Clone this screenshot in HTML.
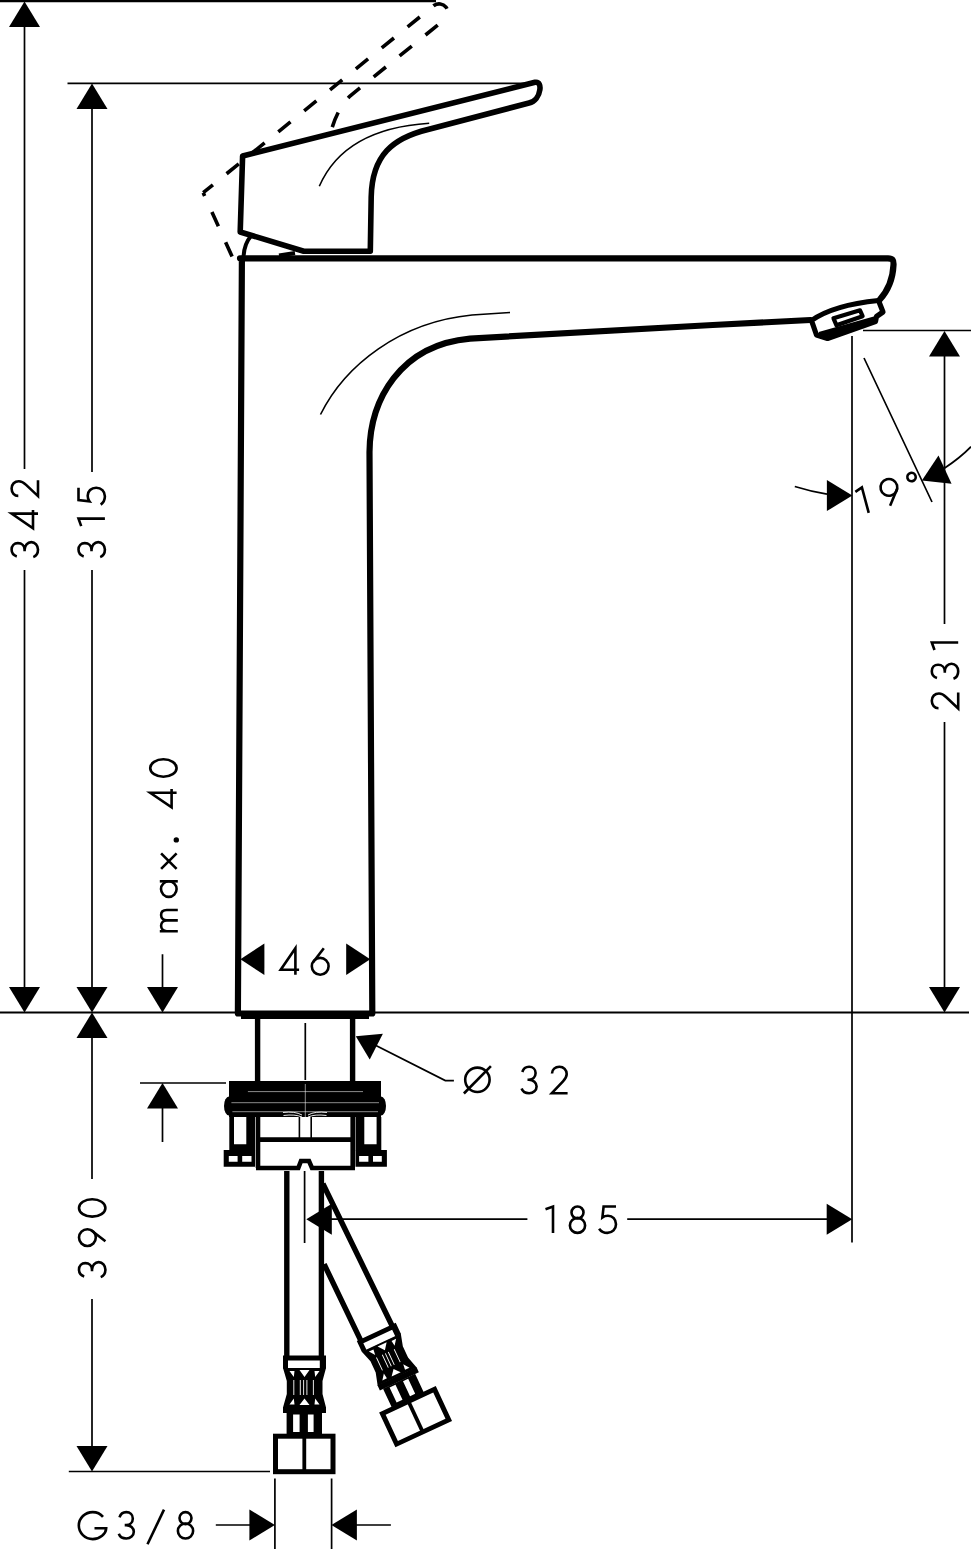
<!DOCTYPE html>
<html><head><meta charset="utf-8"><title>Faucet drawing</title>
<style>html,body{margin:0;padding:0;background:#fff;}body{width:971px;height:1549px;overflow:hidden;font-family:"Liberation Sans",sans-serif;}svg{display:block;}</style>
</head><body>
<svg width="971" height="1549" viewBox="0 0 971 1549"><path fill="none" stroke="#000" stroke-width="1.7" d="M67.5,83.3 H532 M24.5,26 V469 M24.5,570 V987 M92,108 V472 M92,570 V987 M162.5,954.3 V987 M92,1038 V1179 M92,1299 V1446 M68.8,1471.5 H270 M140,1083 H226 M162.5,1108 V1142 M863,330.5 H971 M944.5,355 V624 M944.5,722 V987 M852,336 V1242.6 M330,1219.2 H527.4 M627.2,1219.2 H828 M305.3,1023 V1080 M304.6,1171 V1243 M274.9,1478.4 V1549 M331.6,1478.4 V1549 M215.8,1525 H250 M356,1525 H390.9 M864,358 L932,502 M372,1043.5 L445.3,1080.6 H453.9"/>
<path fill="none" stroke="#000" stroke-width="2.2" d="M0,1.1 H436"/>
<path fill="none" stroke="#000" stroke-width="2" d="M0,1012.5 H236 M374,1012.5 H969"/>
<path fill="none" stroke="#000" stroke-width="1.7" d="M794.8,486.5 Q811,491.5 827,494.2 M971,446.7 Q960,458 944,468.5"/>
<g fill="#000"><path d="M24.50,1.50 L40.00,27.00 L9.00,27.00 Z"/><path d="M24.50,1012.50 L9.00,987.00 L40.00,987.00 Z"/><path d="M92.00,83.50 L107.50,109.00 L76.50,109.00 Z"/><path d="M92.00,1012.50 L76.50,987.00 L107.50,987.00 Z"/><path d="M162.50,1012.50 L147.00,987.00 L178.00,987.00 Z"/><path d="M92.00,1012.50 L107.50,1038.00 L76.50,1038.00 Z"/><path d="M92.00,1471.50 L76.50,1446.00 L107.50,1446.00 Z"/><path d="M162.50,1083.00 L178.00,1108.50 L147.00,1108.50 Z"/><path d="M944.50,331.00 L960.00,356.50 L929.00,356.50 Z"/><path d="M944.50,1012.50 L929.00,987.00 L960.00,987.00 Z"/><path d="M240.40,959.30 L264.40,943.50 L264.40,975.10 Z"/><path d="M370.20,959.30 L346.20,975.10 L346.20,943.50 Z"/><path d="M306.30,1219.20 L331.80,1203.70 L331.80,1234.70 Z"/><path d="M852.20,1219.20 L826.70,1234.70 L826.70,1203.70 Z"/><path d="M274.90,1525.00 L249.40,1540.50 L249.40,1509.50 Z"/><path d="M331.40,1525.00 L356.90,1509.50 L356.90,1540.50 Z"/><path d="M852.35,495.60 L826.85,511.10 L826.85,480.10 Z"/><path d="M921.90,480.40 L938.50,455.60 L951.56,483.72 Z"/><path d="M355.80,1036.20 L382.88,1033.72 L369.71,1059.56 Z"/></g>
<path fill="none" stroke="#000" stroke-width="6.2" stroke-linejoin="round" stroke-linecap="round" d="M241.9,258.3 L237.9,1013.5 H372.3 L369.5,452 C370,400 400,345 470,338.6 L712.8,325 L810.5,320 M240,258.3 H888 C892.5,258.5 893.8,260 893.5,265 C893,276 889.5,289 879.5,300"/>
<path fill="none" stroke="#000" stroke-width="5.6" stroke-linejoin="round" stroke-linecap="round" d="M242.6,156 L535,82.3 C539.5,81.5 540.5,86 539.8,90 C539,96 535,101.5 529,103 L428,129.5 C393,138 372,155 371.2,197 L370.3,251.3 H303.8 L240.2,232 Z"/>
<rect x="241" y="1013" width="128" height="6" fill="#000"/>
<path fill="none" stroke="#000" stroke-width="1.6" d="M320.5,414.5 C345,365 400,322 472,315 L510,312.5 M319.3,186.3 C335,150 370,127 429.2,123.2"/>
<path fill="none" stroke="#000" stroke-width="4" d="M251,236 Q244,244 243.5,257.5 M279,255.5 L295,253"/>
<path fill="none" stroke="#000" stroke-width="3.6" stroke-dasharray="15.7 17.6" stroke-dashoffset="-1" d="M232.5,257.5 L203.2,192.7"/>
<path fill="none" stroke="#000" stroke-width="3.6" stroke-dasharray="15.7 17.6" stroke-dashoffset="3.2" d="M203.2,192.7 L434,5.5 A8.8,8.8 0 0 1 445,19.2"/>
<path fill="none" stroke="#000" stroke-width="3.6" stroke-dasharray="15.7 17.6" stroke-dashoffset="-9.4" d="M445,19.2 L350,96 Q338,108 332,128"/>
<g fill="none" stroke="#000" stroke-linejoin="round"><path d="M811.5,320.5 C827,309.5 849,303.5 878.5,300.5 L883,312 L876.5,316.5 L875.5,321.5 L827.5,338.5 L816.5,335 Z" stroke-width="5.2" fill="#fff"/><path d="M819.5,335.2 L875.5,319.5" stroke-width="6.5"/><path d="M833.5,318.3 L860,310.3 L862.6,316.2 L836.5,325.3 Z" stroke-width="4.2"/></g>
<path fill="none" stroke="#000" stroke-width="5.4" d="M257.6,1019 V1082 M352.6,1019 V1082"/>
<g fill="#000"><rect x="229" y="1081" width="152" height="36" /><rect x="233" y="1081" width="144" height="3"/><ellipse cx="229" cy="1106" rx="5" ry="9.5"/><ellipse cx="381" cy="1106" rx="5" ry="9.5"/><path fill-rule="evenodd" d="M229.3,1117 H255.1 V1150.3 H229.3 Z M234,1117 H246.3 V1144.2 H234 Z"/><path fill-rule="evenodd" d="M355.5,1117 H381.3 V1150.3 H355.5 Z M364.3,1117 H376.6 V1144.2 H364.3 Z"/><path fill-rule="evenodd" d="M223.7,1150 H255.1 V1166.8 H223.7 Z M228.8,1156 H237.6 V1161.7 H228.8 Z M242.2,1156 H251.5 V1161.7 H242.2 Z"/><path fill-rule="evenodd" d="M355.5,1150 H386.9 V1166.8 H355.5 Z M359.1,1156 H368.4 V1161.7 H359.1 Z M373,1156 H381.8 V1161.7 H373 Z"/></g>
<path fill="none" stroke="#fff" stroke-width="0.55" d="M247.9,1091.6 H363 M231.4,1102.7 H379 M232.4,1111.7 H378 M305.3,1084 V1117"/>
<path fill="none" stroke="#fff" stroke-width="0.9" d="M283,1112.5 Q295,1111 302,1115 M283.5,1115.5 Q295,1114 302,1117 M327,1112.5 Q315,1111 308,1115 M326.5,1115.5 Q315,1114 308,1117"/>
<path fill="none" stroke="#000" stroke-width="4.6" d="M258,1117 V1168 M352.7,1117 V1168 M256,1139.6 H355 M256,1168 H298.3 L301,1161 H309 L312,1168 H355"/>
<path fill="none" stroke="#000" stroke-width="1.6" d="M299.4,1117 V1138 M311.2,1117 V1138"/>
<path fill="none" stroke="#000" stroke-width="5.4" d="M286.8,1171 V1358 M321.4,1171 V1358"/>
<g fill="#000"><path fill-rule="evenodd" d="M283,1355.5 H326 V1368.5 H283 Z M288,1360.5 H319.8 V1368.5 H288 Z"/><path d="M283,1368 H326 L322.5,1381 V1394 L326,1407.5 H283 L286.8,1394 V1381 Z"/><rect x="283" y="1407" width="43" height="6"/><path fill-rule="evenodd" d="M286.6,1412.7 H322 V1434.4 H286.6 Z M293.1,1414.4 H299.6 V1431.9 H293.1 Z M307.9,1414.4 H313.6 V1431.9 H307.9 Z"/></g><g fill="#fff"><path d="M289.5,1371 H294.5 L293.8,1377 Z M299.5,1370 H309.5 L304.5,1377 Z M314.5,1371 H319.5 L315.2,1377 Z"/><path d="M289.5,1404.5 H294.5 L293.8,1398.5 Z M299.5,1405 H309.5 L304.5,1398.5 Z M314.5,1404.5 H319.5 L315.2,1398.5 Z"/></g><path fill="none" stroke="#fff" stroke-width="0.9" d="M293.8,1380 V1395 M300.3,1380 V1395 M303.6,1380 V1395 M306.9,1380 V1395 M313.4,1380 V1395"/><rect x="275.5" y="1436.2" width="57.5" height="35.5" fill="none" stroke="#000" stroke-width="5"/><path d="M304.3,1436 V1473" stroke="#000" stroke-width="3.8"/>
<path fill="none" stroke="#000" stroke-width="5.4" d="M322.9,1183.7 L392.7,1327 M324.1,1264.2 L361.3,1341.6"/>
<g transform="translate(423.4,1434.1) rotate(-25) scale(1,0.95) translate(-304,-1474)"><g fill="#000"><path fill-rule="evenodd" d="M283,1355.5 H326 V1368.5 H283 Z M288,1360.5 H319.8 V1368.5 H288 Z"/><path d="M283,1368 H326 L322.5,1381 V1394 L326,1407.5 H283 L286.8,1394 V1381 Z"/><rect x="283" y="1407" width="43" height="6"/><path fill-rule="evenodd" d="M286.6,1412.7 H322 V1434.4 H286.6 Z M293.1,1414.4 H299.6 V1431.9 H293.1 Z M307.9,1414.4 H313.6 V1431.9 H307.9 Z"/></g><g fill="#fff"><path d="M289.5,1371 H294.5 L293.8,1377 Z M299.5,1370 H309.5 L304.5,1377 Z M314.5,1371 H319.5 L315.2,1377 Z"/><path d="M289.5,1404.5 H294.5 L293.8,1398.5 Z M299.5,1405 H309.5 L304.5,1398.5 Z M314.5,1404.5 H319.5 L315.2,1398.5 Z"/></g><path fill="none" stroke="#fff" stroke-width="0.9" d="M293.8,1380 V1395 M300.3,1380 V1395 M303.6,1380 V1395 M306.9,1380 V1395 M313.4,1380 V1395"/><rect x="275.5" y="1436.2" width="57.5" height="35.5" fill="none" stroke="#000" stroke-width="5"/><path d="M304.3,1436 V1473" stroke="#000" stroke-width="3.8"/></g>
<g fill="none" stroke="#000" stroke-width="2.6" stroke-linecap="butt"><g transform="translate(10.30,558.40) rotate(-90)"><g transform="translate(0.00,0.00)"><path d="M2,6.5 C3,3.2 5.5,1.3 8.8,1.3 C12.6,1.3 15.3,4 15.3,7.6 C15.3,11.4 12.5,14.3 8.6,14.3 H7.2 M8.6,14.3 C13,14.3 16.3,17.3 16.3,21 C16.3,24.8 13,27.7 8.8,27.7 C5.2,27.7 2.3,25.8 1.3,23"/></g><g transform="translate(28.80,0.00)"><path d="M16,27.7 V1.3 L1.3,22.7 H19.7"/></g><g transform="translate(60.70,0.00)"><path d="M1.8,8 C1.8,4 5,1.3 9.2,1.3 C13.5,1.3 16.5,4.3 16.5,8.5 C16.5,11.5 15,13.5 12.8,15.8 L1.6,27.7 H17.4"/></g></g><g transform="translate(77.20,558.40) rotate(-90)"><g transform="translate(0.00,0.00)"><path d="M2,6.5 C3,3.2 5.5,1.3 8.8,1.3 C12.6,1.3 15.3,4 15.3,7.6 C15.3,11.4 12.5,14.3 8.6,14.3 H7.2 M8.6,14.3 C13,14.3 16.3,17.3 16.3,21 C16.3,24.8 13,27.7 8.8,27.7 C5.2,27.7 2.3,25.8 1.3,23"/></g><g transform="translate(29.80,0.00)"><path d="M2.5,4.0 L10,1.3 V27.7"/></g><g transform="translate(52.50,0.00)"><path d="M18.2,1.3 H5.8 L4.6,12.2 C6.2,11 8.2,10.5 10.2,10.5 C14.8,10.5 18.2,14 18.2,19 C18.2,24 14.5,27.7 9.6,27.7 C6,27.7 3,26 1.3,23.5"/></g></g><g transform="translate(930.50,710.00) rotate(-90)"><g transform="translate(0.00,0.00)"><path d="M1.8,8 C1.8,4 5,1.3 9.2,1.3 C13.5,1.3 16.5,4.3 16.5,8.5 C16.5,11.5 15,13.5 12.8,15.8 L1.6,27.7 H17.4"/></g><g transform="translate(30.00,0.00)"><path d="M2,6.5 C3,3.2 5.5,1.3 8.8,1.3 C12.6,1.3 15.3,4 15.3,7.6 C15.3,11.4 12.5,14.3 8.6,14.3 H7.2 M8.6,14.3 C13,14.3 16.3,17.3 16.3,21 C16.3,24.8 13,27.7 8.8,27.7 C5.2,27.7 2.3,25.8 1.3,23"/></g><g transform="translate(57.50,0.00)"><path d="M2.5,4.0 L10,1.3 V27.7"/></g></g><g transform="translate(148.90,932.60) rotate(-90)"><g transform="translate(0.00,10.90)"><path d="M1.4,0 V18 M1.4,7 C1.4,3.5 3.6,1.3 6.8,1.3 C10,1.3 12.2,3.5 12.2,7 V18 M12.2,7 C12.2,3.5 14.4,1.3 17.6,1.3 C20.8,1.3 22.6,3.5 22.6,7 V18"/></g><g transform="translate(35.30,10.90)"><circle cx="8.2" cy="9.0" r="7.8"/><path d="M16,0 V18"/></g><g transform="translate(62.40,10.90)"><path d="M1.3,1.3 L16.9,16.8 M16.9,1.3 L1.3,16.8"/></g><g transform="translate(90.40,10.90)"><circle cx="2.3" cy="16.5" r="1.4" fill="#000"/></g><g transform="translate(123.90,0.00)"><path d="M16,27.7 V1.3 L1.3,22.7 H19.7"/></g><g transform="translate(154.60,0.00)"><ellipse cx="10" cy="14.5" rx="8.7" ry="13.2"/></g></g><g transform="translate(77.70,1278.40) rotate(-90)"><g transform="translate(0.00,0.00)"><path d="M2,6.5 C3,3.2 5.5,1.3 8.8,1.3 C12.6,1.3 15.3,4 15.3,7.6 C15.3,11.4 12.5,14.3 8.6,14.3 H7.2 M8.6,14.3 C13,14.3 16.3,17.3 16.3,21 C16.3,24.8 13,27.7 8.8,27.7 C5.2,27.7 2.3,25.8 1.3,23"/></g><g transform="translate(30.90,0.00)"><circle cx="9.9" cy="9.7" r="8.4"/><path d="M6.3,27.7 L17.2,13.5"/></g><g transform="translate(60.50,0.00)"><ellipse cx="10" cy="14.5" rx="8.7" ry="13.2"/></g></g><g transform="translate(279.40,947.00)"><path d="M16,27.7 V1.3 L1.3,22.7 H19.7"/></g><g transform="translate(310.30,947.00)"><circle cx="9.9" cy="19.3" r="8.4"/><path d="M13.5,1.3 L2.6,15.5"/></g><g transform="translate(462.60,1065.50)"><circle cx="14.8" cy="14.3" r="12.2"/><path d="M1.3,28 L28.3,0.6"/></g><g transform="translate(520.30,1065.50)"><path d="M2,6.5 C3,3.2 5.5,1.3 8.8,1.3 C12.6,1.3 15.3,4 15.3,7.6 C15.3,11.4 12.5,14.3 8.6,14.3 H7.2 M8.6,14.3 C13,14.3 16.3,17.3 16.3,21 C16.3,24.8 13,27.7 8.8,27.7 C5.2,27.7 2.3,25.8 1.3,23"/></g><g transform="translate(550.20,1065.50)"><path d="M1.8,8 C1.8,4 5,1.3 9.2,1.3 C13.5,1.3 16.5,4.3 16.5,8.5 C16.5,11.5 15,13.5 12.8,15.8 L1.6,27.7 H17.4"/></g><g transform="translate(543.00,1205.20)"><path d="M2.5,4.0 L10,1.3 V27.7"/></g><g transform="translate(568.50,1205.20)"><circle cx="9" cy="7.3" r="6"/><ellipse cx="9" cy="20.2" rx="7.6" ry="7.5"/></g><g transform="translate(597.80,1205.20)"><path d="M18.2,1.3 H5.8 L4.6,12.2 C6.2,11 8.2,10.5 10.2,10.5 C14.8,10.5 18.2,14 18.2,19 C18.2,24 14.5,27.7 9.6,27.7 C6,27.7 3,26 1.3,23.5"/></g><g transform="translate(77.50,1510.80)"><path d="M25.5,6 C23,3 19.5,1.3 15.2,1.3 C7.6,1.3 1.3,7.3 1.3,14.8 C1.3,22.3 7.6,28.3 15.2,28.3 C22.5,28.3 28.5,23 28.7,17.4 H17"/></g><g transform="translate(117.50,1510.80)"><path d="M2,6.5 C3,3.2 5.5,1.3 8.8,1.3 C12.6,1.3 15.3,4 15.3,7.6 C15.3,11.4 12.5,14.3 8.6,14.3 H7.2 M8.6,14.3 C13,14.3 16.3,17.3 16.3,21 C16.3,24.8 13,27.7 8.8,27.7 C5.2,27.7 2.3,25.8 1.3,23"/></g><g transform="translate(146.00,1510.80)"><path d="M1.5,33.5 L18,-1.2"/></g><g transform="translate(176.50,1510.80)"><circle cx="9" cy="7.3" r="6"/><ellipse cx="9" cy="20.2" rx="7.6" ry="7.5"/></g><g transform="translate(851.9,488.7) rotate(-15)"><g transform="translate(0.00,0.00)"><path d="M2.5,4.0 L10,1.3 V27.7"/></g><g transform="translate(26.20,-1.40)"><circle cx="9.9" cy="9.7" r="8.4"/><path d="M6.3,27.7 L17.2,13.5"/></g><circle cx="60.6" cy="4.2" r="4.2"/></g></g></svg>
</body></html>
